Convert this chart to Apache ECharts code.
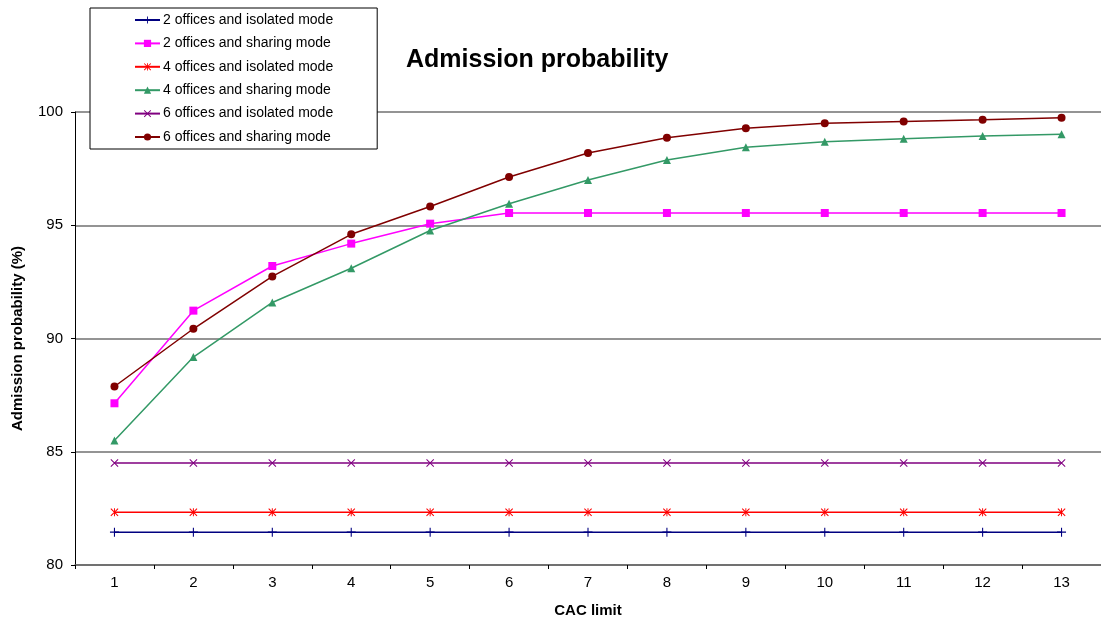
<!DOCTYPE html>
<html>
<head>
<meta charset="utf-8">
<script src="https://cdn.jsdelivr.net/npm/echarts@6/dist/echarts.min.js"></script>
<style>
html,body{margin:0;padding:0;background:#fff;}
#chart{width:1101px;height:623px;}
</style>
</head>
<body>
<div id="chart"></div>
<script>
const categories = ['1','2','3','4','5','6','7','8','9','10','11','12','13'];
const seriesNames = [
  '2 offices and isolated mode',
  '2 offices and sharing mode',
  '4 offices and isolated mode',
  '4 offices and sharing mode',
  '6 offices and isolated mode',
  '6 offices and sharing mode'
];
const iso2 = [81.45,81.45,81.45,81.45,81.45,81.45,81.45,81.45,81.45,81.45,81.45,81.45,81.45];
const share2 = [87.14,91.23,93.2,94.19,95.07,95.54,95.54,95.54,95.54,95.54,95.54,95.54,95.54];
const iso4 = [82.33,82.33,82.33,82.33,82.33,82.33,82.33,82.33,82.33,82.33,82.33,82.33,82.33];
const share4 = [85.5,89.18,91.59,93.1,94.77,95.95,97.0,97.88,98.44,98.69,98.82,98.94,99.02];
const iso6 = [84.5,84.5,84.5,84.5,84.5,84.5,84.5,84.5,84.5,84.5,84.5,84.5,84.5];
const share6 = [87.88,90.43,92.74,94.6,95.83,97.13,98.19,98.86,99.28,99.5,99.58,99.66,99.75];
const yTicks = [80,85,90,95,100];

const plusPath = 'path://M0,4.4H10V5.6H0Z M4.4,0H5.6V10H4.4Z';
const crossPath = 'path://M0,0.9L0.9,0L10,9.1L9.1,10Z M9.1,0L10,0.9L0.9,10L0,9.1Z';
const starPath = 'path://M0,0.9L0.9,0L10,9.1L9.1,10Z M9.1,0L10,0.9L0.9,10L0,9.1Z M4.4,0H5.6V10H4.4Z';

const colors = ['#000080','#FF00FF','#FF0000','#339966','#800080','#800000'];
const symbols = [plusPath,'rect',starPath,'triangle',crossPath,'circle'];
const sizes = [9,8,8,8,8,8];
const datas = [iso2,share2,iso4,share4,iso6,share6];

const chart = echarts.init(document.getElementById('chart'), null, {renderer:'canvas'});
const font = 'Liberation Sans, Arial, sans-serif';
chart.setOption({
  animation:false,
  backgroundColor:'#fff',
  title:{
    text:'Admission probability',
    left:401, top:43,
    textStyle:{fontFamily:font,fontSize:25,fontWeight:'bold',color:'#000'}
  },
  legend:{
    orient:'vertical',
    left:90, top:8,
    padding:[5,44,5,44],
    itemGap:9.4,
    itemWidth:25, itemHeight:9,
    backgroundColor:'#fff',
    borderColor:'#000', borderWidth:1,
    borderRadius:0,
    textStyle:{fontFamily:font,fontSize:14,color:'#000',lineHeight:14,padding:[0,0,0,-2]},
    data:seriesNames
  },
  grid:{left:75, top:112, bottom:58, width:1030.5, containLabel:false},
  xAxis:{
    type:'category',
    data:categories,
    boundaryGap:true,
    name:'CAC limit',
    nameLocation:'middle',
    nameGap:38,
    nameTextStyle:{fontFamily:font,fontSize:15,fontWeight:'bold',color:'#000'},
    axisLine:{lineStyle:{color:'#666',width:1.5}},
    axisTick:{show:true,alignWithLabel:false,length:4,lineStyle:{color:'#000'}},
    axisLabel:{fontFamily:font,fontSize:15,color:'#000',margin:10},
    splitLine:{show:false}
  },
  yAxis:{
    type:'value',
    min:yTicks[0], max:yTicks[yTicks.length-1], interval:5,
    name:'Admission probability (%)',
    nameLocation:'middle',
    nameGap:50,
    nameTextStyle:{fontFamily:font,fontSize:15,fontWeight:'bold',color:'#000'},
    axisLine:{show:true,lineStyle:{color:'#000',width:1}},
    axisTick:{show:true,length:4,lineStyle:{color:'#000'}},
    axisLabel:{fontFamily:font,fontSize:15,color:'#000',margin:12},
    splitLine:{show:true,lineStyle:{color:'#707070',width:1.5}}
  },
  series: seriesNames.map((n,i)=>({
    name:n,
    type:'line',
    data:datas[i],
    symbol:symbols[i],
    symbolSize:sizes[i],
    showAllSymbol:true,
    lineStyle:{color:colors[i],width:1.5},
    itemStyle:{color:colors[i],borderWidth:0},
    emphasis:{disabled:true},
    z:10+i
  }))
});
</script>
</body>
</html>
